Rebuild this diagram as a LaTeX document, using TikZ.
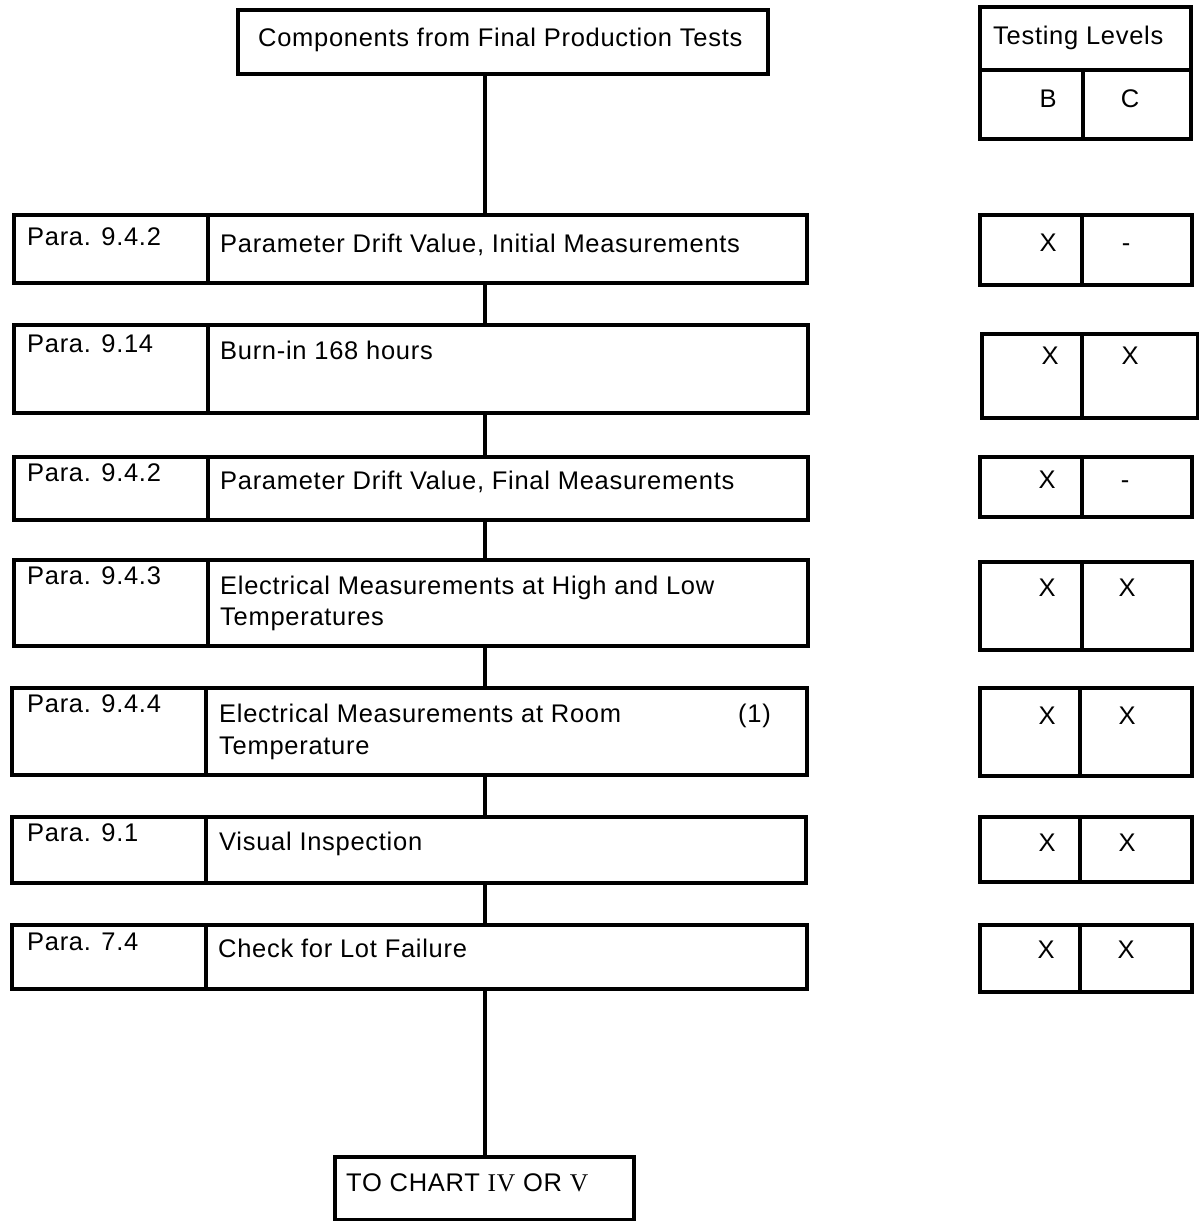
\documentclass[tikz,border=0pt]{standalone}
\usepackage{fontspec}
\setmainfont[LetterSpace=2.8]{Liberation Sans}
\newfontfamily\romanfont[LetterSpace=2.8]{Liberation Serif}
\usetikzlibrary{calc}
\begin{document}
\begin{tikzpicture}[x=1pt,y=-1pt,
  box/.style={draw, line width=3.8pt, rectangle, inner sep=0pt, anchor=north west},
  wire/.style={line width=3.8pt},
  txt/.style={anchor=base west, inner sep=0pt, font=\fontsize{25.5}{30}\selectfont},
  lvl/.style={anchor=base, inner sep=0pt, font=\fontsize{25.5}{30}\selectfont}]
\useasboundingbox (0,0) rectangle (1199,1221);
% top and bottom
\node[box, minimum width=530pt, minimum height=64pt] (top) at (236,8) {};
\node[txt] (toptxt) at (258,46) {Components from Final Production Tests};
\node[box, minimum width=299pt, minimum height=63pt] (bot) at (333,1155) {};
\node[txt] (bottxt) at (346,1191) {TO CHART {\romanfont IV} OR {\romanfont V}};
% testing levels header
\node[box, minimum width=211pt, minimum height=132pt] (tl) at (978,5) {};
\draw[wire] (978,70) -- (1189,70);
\draw[wire] (1083,70) -- (1083,137);
\node[txt] (tltxt) at (993,44) {Testing Levels};
\node[lvl] (tlb) at (1048,107) {B};
\node[lvl] (tlc) at (1130,107) {C};
% rows
\node[box, minimum width=793pt, minimum height=68pt] (r1) at (12,213) {};
\draw[wire] (208,213) -- (208,281);
\node[txt] at (27,245) {Para. 9.4.2};
\node[txt] at (220,252) {Parameter Drift Value, Initial Measurements};
\node[box, minimum width=212pt, minimum height=70pt] (t1) at (978,213) {};
\draw[wire] (1082,213) -- (1082,283);
\node[lvl] at (1048,251) {X};
\node[lvl] at (1126,251) {-};

\node[box, minimum width=794pt, minimum height=88pt] (r2) at (12,323) {};
\draw[wire] (208,323) -- (208,411);
\node[txt] at (27,352) {Para. 9.14};
\node[txt] at (220,359) {Burn-in 168 hours};
\node[box, minimum width=216pt, minimum height=84pt] (t2) at (980,332) {};
\draw[wire] (1082,332) -- (1082,416);
\node[lvl] at (1050,364) {X};
\node[lvl] at (1130,364) {X};

\node[box, minimum width=794pt, minimum height=63pt] (r3) at (12,455) {};
\draw[wire] (208,455) -- (208,518);
\node[txt] at (27,481) {Para. 9.4.2};
\node[txt] at (220,489) {Parameter Drift Value, Final Measurements};
\node[box, minimum width=212pt, minimum height=60pt] (t3) at (978,455) {};
\draw[wire] (1082,455) -- (1082,515);
\node[lvl] at (1047,488) {X};
\node[lvl] at (1125,488) {-};

\node[box, minimum width=794pt, minimum height=86pt] (r4) at (12,558) {};
\draw[wire] (208,558) -- (208,644);
\node[txt] at (27,584) {Para. 9.4.3};
\node[txt] at (220,594) {Electrical Measurements at High and Low};
\node[txt] at (220,625) {Temperatures};
\node[box, minimum width=212pt, minimum height=88pt] (t4) at (978,560) {};
\draw[wire] (1082,560) -- (1082,648);
\node[lvl] at (1047,596) {X};
\node[lvl] at (1127,596) {X};

\node[box, minimum width=795pt, minimum height=87pt] (r5) at (10,686) {};
\draw[wire] (206,686) -- (206,773);
\node[txt] at (27,712) {Para. 9.4.4};
\node[txt] at (219,722) {Electrical Measurements at Room};
\node[txt] at (738,722) {(1)};
\node[txt] at (219,754) {Temperature};
\node[box, minimum width=212pt, minimum height=88pt] (t5) at (978,686) {};
\draw[wire] (1080,686) -- (1080,774);
\node[lvl] at (1047,724) {X};
\node[lvl] at (1127,724) {X};

\node[box, minimum width=794pt, minimum height=66pt] (r6) at (10,815) {};
\draw[wire] (206,815) -- (206,881);
\node[txt] at (27,841) {Para. 9.1};
\node[txt] at (219,850) {Visual Inspection};
\node[box, minimum width=212pt, minimum height=65pt] (t6) at (978,815) {};
\draw[wire] (1080,815) -- (1080,880);
\node[lvl] at (1047,851) {X};
\node[lvl] at (1127,851) {X};

\node[box, minimum width=795pt, minimum height=64pt] (r7) at (10,923) {};
\draw[wire] (206,923) -- (206,987);
\node[txt] at (27,950) {Para. 7.4};
\node[txt] at (218,957) {Check for Lot Failure};
\node[box, minimum width=212pt, minimum height=67pt] (t7) at (978,923) {};
\draw[wire] (1080,923) -- (1080,990);
\node[lvl] at (1046,958) {X};
\node[lvl] at (1126,958) {X};

% spine
\coordinate (sp) at (485,0);
\draw[wire] (sp |- top.south) -- (sp |- r1.north);
\draw[wire] (sp |- r1.south) -- (sp |- r2.north);
\draw[wire] (sp |- r2.south) -- (sp |- r3.north);
\draw[wire] (sp |- r3.south) -- (sp |- r4.north);
\draw[wire] (sp |- r4.south) -- (sp |- r5.north);
\draw[wire] (sp |- r5.south) -- (sp |- r6.north);
\draw[wire] (sp |- r6.south) -- (sp |- r7.north);
\draw[wire] (sp |- r7.south) -- (sp |- bot.north);
\end{tikzpicture}
\end{document}
